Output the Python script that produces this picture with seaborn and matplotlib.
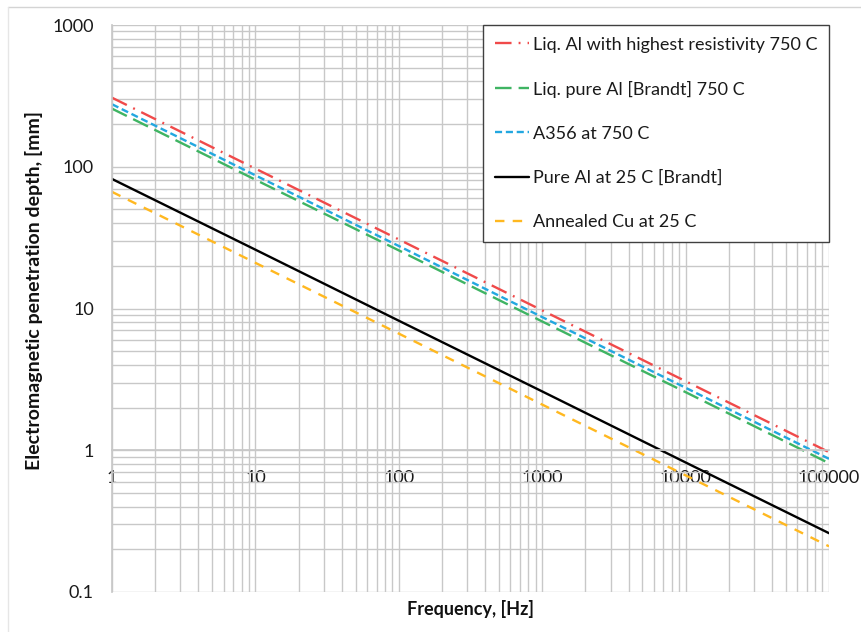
import numpy as np
import pandas as pd
import matplotlib
matplotlib.use("Agg")
import matplotlib.pyplot as plt
import matplotlib.ticker as mticker
from matplotlib.lines import Line2D
import seaborn as sns

# ---- data (values at each decade of frequency) ----
freq_hz = [1, 10, 100, 1000, 10000, 100000]
liq_al_high = [307, 97, 30.7, 9.7, 3.07, 0.97]
liq_pure_al = [257, 81, 25.7, 8.1, 2.57, 0.81]
a356_750 = [276, 87, 27.6, 8.7, 2.76, 0.87]
pure_al_25 = [82, 26, 8.2, 2.6, 0.82, 0.26]
annealed_cu = [66.5, 21, 6.65, 2.1, 0.665, 0.21]

series_names = [
    "Liq. Al with highest resistivity 750 C",
    "Liq. pure Al [Brandt] 750 C",
    "A356 at 750 C",
    "Pure Al at 25 C [Brandt]",
    "Annealed Cu at 25 C",
]
y_ticks = [0.1, 1, 10, 100, 1000]
y_tick_labels = ["0.1", "1", "10", "100", "1000"]
x_ticks = [1, 10, 100, 1000, 10000, 100000]
x_tick_labels = ["1", "10", "100", "1000", "10000", "100000"]

df = pd.DataFrame({
    "freq": freq_hz * 5,
    "depth": liq_al_high + liq_pure_al + a356_750 + pure_al_25 + annealed_cu,
    "series": np.repeat(series_names, len(freq_hz)),
})

sns.set_theme(style="white")
plt.rcParams["font.family"] = ["Lato", "DejaVu Sans"]

colors = ["#f04a4a", "#3fb463", "#22a7e0", "#000000", "#ffb820"]
dashes = [(7, 3, 0.8, 3), (7, 3), (3, 1.6), "", (4, 3.5)]

fig = plt.figure(figsize=(8.61, 6.32), dpi=100)
ax = fig.add_axes([112 / 861, 1 - 592 / 632, 717 / 861, 567 / 632])

sns.lineplot(data=df, x="freq", y="depth", hue="series", style="series",
             palette=dict(zip(series_names, colors)),
             dashes=dict(zip(series_names, dashes)),
             linewidth=1.7, ax=ax, legend=False)

ax.set_xscale("log")
ax.set_yscale("log")
ax.set_xlim(1, 100000)
ax.set_ylim(0.1, 1000)

grid_c = "#c8c8c8"
ax.xaxis.set_major_locator(mticker.FixedLocator(x_ticks))
ax.xaxis.set_major_formatter(mticker.FixedFormatter(x_tick_labels))
ax.yaxis.set_major_locator(mticker.FixedLocator(y_ticks))
ax.yaxis.set_major_formatter(mticker.FixedFormatter(y_tick_labels))
ax.xaxis.set_minor_locator(mticker.LogLocator(base=10, subs=np.arange(2, 10)))
ax.yaxis.set_minor_locator(mticker.LogLocator(base=10, subs=np.arange(2, 10)))
ax.xaxis.set_minor_formatter(mticker.NullFormatter())
ax.yaxis.set_minor_formatter(mticker.NullFormatter())
ax.grid(which="both", color=grid_c, linewidth=1.0)

for s in ["top", "right"]:
    ax.spines[s].set_visible(False)
ax.spines["left"].set_color(grid_c)
ax.spines["bottom"].set_color(grid_c)
ax.spines["bottom"].set_position(("data", 1))

ax.tick_params(axis="y", which="major", length=7, color=grid_c, width=1.0,
               labelsize=13, pad=6, labelcolor="#1a1a1a")
ax.tick_params(axis="y", which="minor", length=0)
ax.tick_params(axis="x", which="both", length=0, labelsize=13, pad=14,
               labelcolor="#1a1a1a")

ax.set_xlabel("Frequency, [Hz]", fontsize=13, fontweight="bold", color="#111111")
ax.set_ylabel("Electromagnetic penetration depth, [mm]", fontsize=14,
              fontweight="bold", color="#111111")
ax.xaxis.set_label_coords(0.5, -0.014)
ax.yaxis.set_label_coords(-0.096, 0.531)

handles = [Line2D([], [], color=c, linewidth=1.7,
                  linestyle=(0, d) if d else "-")
           for c, d in zip(colors, dashes)]
leg = ax.legend(handles, series_names, loc="upper right",
                bbox_to_anchor=(1.0, 1.0), frameon=True, fancybox=False,
                fontsize=13.0, handlelength=1.9, handletextpad=0.2,
                labelspacing=1.55, borderpad=0.65, borderaxespad=0)
for t in leg.get_texts():
    t.set_color("#1a1a1a")
leg.get_frame().set_edgecolor("#404040")
leg.get_frame().set_linewidth(1.0)
leg.get_frame().set_facecolor("white")
leg.get_frame().set_alpha(1.0)

# faint border of the original screenshot
fig.add_artist(Line2D([8 / 861, 1], [1 - 7 / 632] * 2, color="#d4d4d4", lw=1,
                      transform=fig.transFigure))
fig.add_artist(Line2D([8 / 861] * 2, [0, 1 - 7 / 632], color="#e6e6e6", lw=1,
                      transform=fig.transFigure))

fig.savefig("out.png", dpi=100)
